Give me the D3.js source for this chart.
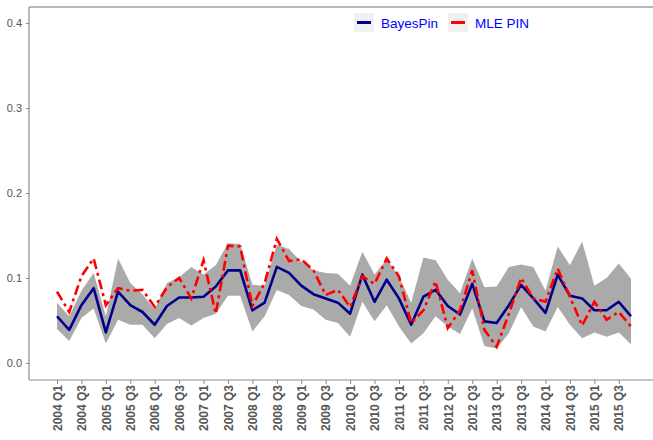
<!DOCTYPE html>
<html>
<head>
<meta charset="utf-8">
<script src="https://cdn.jsdelivr.net/npm/d3@7"></script>
<style>
  body { margin: 0; background: #fff; }
  svg { font-family: 'Liberation Sans', Arial, sans-serif; }
</style>
</head>
<body>
<svg width="653" height="440"></svg>
<script>
const years = d3.range(2004, 2016)
const quarters = years.flatMap(y => [1, 2, 3, 4].map(q => `${y} Q${q}`))

const bayes = [0.055, 0.039, 0.068, 0.088, 0.036, 0.084, 0.068, 0.060, 0.045, 0.067,
  0.077, 0.077, 0.078, 0.090, 0.109, 0.109, 0.062, 0.071, 0.113, 0.106,
  0.091, 0.081, 0.076, 0.071, 0.058, 0.104, 0.072, 0.098, 0.076, 0.045,
  0.078, 0.086, 0.067, 0.057, 0.093, 0.049, 0.047, 0.068, 0.092, 0.076,
  0.059, 0.104, 0.079, 0.076, 0.062, 0.062, 0.072, 0.055]

const mle = [0.084, 0.060, 0.102, 0.123, 0.068, 0.088, 0.085, 0.086, 0.066, 0.089,
  0.100, 0.076, 0.121, 0.058, 0.138, 0.137, 0.067, 0.094, 0.146, 0.120,
  0.122, 0.109, 0.080, 0.086, 0.066, 0.102, 0.093, 0.123, 0.102, 0.047,
  0.062, 0.096, 0.041, 0.062, 0.109, 0.039, 0.019, 0.058, 0.100, 0.076,
  0.072, 0.111, 0.078, 0.044, 0.072, 0.051, 0.060, 0.043]

const lower = [0.040, 0.026, 0.053, 0.064, 0.023, 0.051, 0.045, 0.045, 0.029, 0.046,
  0.053, 0.044, 0.053, 0.058, 0.079, 0.079, 0.037, 0.055, 0.086, 0.080,
  0.067, 0.063, 0.051, 0.047, 0.031, 0.072, 0.049, 0.068, 0.043, 0.023,
  0.035, 0.055, 0.043, 0.034, 0.064, 0.020, 0.017, 0.035, 0.066, 0.043,
  0.037, 0.066, 0.045, 0.029, 0.036, 0.031, 0.036, 0.022]

const upper = [0.071, 0.055, 0.085, 0.106, 0.055, 0.123, 0.094, 0.081, 0.063, 0.094,
  0.101, 0.113, 0.104, 0.115, 0.141, 0.140, 0.092, 0.091, 0.139, 0.134,
  0.119, 0.109, 0.106, 0.105, 0.091, 0.131, 0.104, 0.122, 0.102, 0.071,
  0.124, 0.121, 0.098, 0.082, 0.123, 0.089, 0.090, 0.113, 0.116, 0.113,
  0.085, 0.137, 0.115, 0.143, 0.091, 0.100, 0.117, 0.099]

const yTicks = [0, 0.1, 0.2, 0.3, 0.4]

const series = [
  { name: 'BayesPin', color: '#00008b', dash: null },
  { name: 'MLE PIN', color: '#ff0000', dash: '10,4,3,4' }
]

const svg = d3.select('svg')
const width = +svg.attr('width')

const panel = { left: 29, top: 7, bottom: 380 }

const xScale = d3.scaleLinear()
  .domain([0, quarters.length - 1])
  .range([57, 631])

const yScale = d3.scaleLinear()
  .domain([0, 0.4])
  .range([363, 23])

const axisColor = '#8c8c8c'

// ribbon
const area = d3.area()
  .x((d, i) => xScale(i))
  .y0((d, i) => yScale(lower[i]))
  .y1((d, i) => yScale(upper[i]))

svg.append('path')
  .datum(quarters)
  .attr('d', area)
  .attr('fill', '#aaaaaa')

// lines
const line = (vals) => d3.line()
  .x((d, i) => xScale(i))
  .y(d => yScale(d))(vals)

svg.append('path')
  .attr('d', line(bayes))
  .attr('fill', 'none')
  .attr('stroke', series[0].color)
  .attr('stroke-width', 2.6)
  .attr('stroke-linejoin', 'round')

svg.append('path')
  .attr('d', line(mle))
  .attr('fill', 'none')
  .attr('stroke', series[1].color)
  .attr('stroke-width', 2.6)
  .attr('stroke-dasharray', series[1].dash)

// top border
svg.append('line')
  .attr('x1', panel.left).attr('x2', width)
  .attr('y1', panel.top).attr('y2', panel.top)
  .attr('stroke', '#a0a0a0')
  .attr('stroke-width', 1.5)

// y axis
const yAxis = d3.axisLeft(yScale)
  .tickValues(yTicks)
  .tickFormat(d3.format('.1f'))
  .tickSize(3)
  .tickPadding(4)

const gy = svg.append('g')
  .attr('transform', `translate(${panel.left},0)`)
  .call(yAxis)
gy.select('.domain').remove()
gy.selectAll('line').attr('stroke', axisColor)
gy.selectAll('text')
  .attr('fill', '#555')
  .style('font-size', '11px')

svg.append('line')
  .attr('x1', panel.left).attr('x2', panel.left)
  .attr('y1', panel.top).attr('y2', panel.bottom)
  .attr('stroke', axisColor)
  .attr('stroke-width', 1.2)

// x axis
const xLabels = quarters.map((q, i) => i).filter(i => i % 2 === 0)
const xAxis = d3.axisBottom(xScale)
  .tickValues(xLabels)
  .tickFormat(i => quarters[i])
  .tickSize(4)
  .tickPadding(4)

const gx = svg.append('g')
  .attr('transform', `translate(0,${panel.bottom})`)
  .call(xAxis)
gx.select('.domain').remove()
gx.selectAll('line').attr('stroke', axisColor)
gx.selectAll('text')
  .attr('fill', '#555')
  .style('font-size', '12px')
  .style('font-weight', 'bold')
  .attr('text-anchor', 'end')
  .attr('dy', '0.35em')
  .attr('transform', 'translate(0,5) rotate(-90)')
  .attr('x', 0)
  .attr('y', 0)

svg.append('line')
  .attr('x1', panel.left).attr('x2', width)
  .attr('y1', panel.bottom).attr('y2', panel.bottom)
  .attr('stroke', axisColor)
  .attr('stroke-width', 1.2)

// legend
const legendX = [354, 448]
const legend = svg.append('g')
series.forEach((s, i) => {
  const g = legend.append('g').attr('transform', `translate(${legendX[i]},13)`)
  g.append('rect')
    .attr('width', 20).attr('height', 19)
    .attr('fill', '#f0f0f0')
  g.append('line')
    .attr('x1', 3).attr('x2', 17)
    .attr('y1', 9.5).attr('y2', 9.5)
    .attr('stroke', s.color)
    .attr('stroke-width', 3)
  g.append('text')
    .attr('x', 27).attr('y', 14.5)
    .attr('fill', '#0000ff')
    .style('font-size', '13.5px')
    .text(s.name)
})
</script>
</body>
</html>
